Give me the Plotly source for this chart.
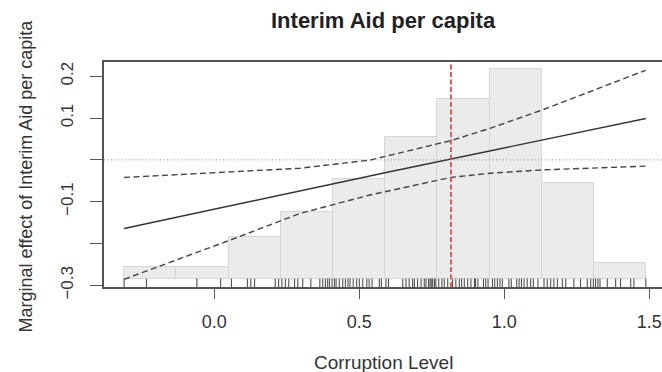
import plotly.graph_objects as go

# ---------------- data ----------------
# histogram of the moderator (Corruption Level)
bin_left = [-0.311, -0.131, 0.049, 0.229, 0.409, 0.589, 0.769, 0.949, 1.129, 1.309]
bin_width = 0.18
bin_counts = [3, 3, 10, 16, 24, 34, 43, 50, 23, 4]

# marginal effect (solid line)
me_x = [-0.311, 0.605, 1.488]
me_y = [-0.164, -0.0285, 0.099]

# upper confidence bound (dashed)
up_x = [-0.311, 0.0, 0.296, 0.537, 0.816, 0.951, 1.130, 1.475, 1.488]
up_y = [-0.042, -0.031, -0.020, -0.0005, 0.046, 0.0755, 0.119, 0.211, 0.214]

# lower confidence bound (dashed)
lo_x = [-0.311, 0.054, 0.296, 0.537, 0.816, 0.951, 1.130, 1.488]
lo_y = [-0.2856, -0.192, -0.128, -0.084, -0.042, -0.032, -0.024, -0.015]

# reference value of the moderator (red dashed line)
ref_x = 0.816

# rug of observed moderator values
rug_x = [
    -0.311, -0.234, -0.060, 0.022, 0.059, 0.114, 0.126, 0.139, 0.210, 0.222,
    0.233, 0.245, 0.257, 0.277, 0.288, 0.305, 0.333, 0.364, 0.374, 0.383,
    0.391, 0.397, 0.406, 0.414, 0.420, 0.431, 0.443, 0.452, 0.461, 0.468,
    0.479, 0.491, 0.500, 0.512, 0.526, 0.534, 0.544, 0.569, 0.576, 0.592,
    0.601, 0.650, 0.661, 0.672, 0.684, 0.690, 0.701, 0.713, 0.724, 0.730,
    0.739, 0.744, 0.748, 0.753, 0.759, 0.764, 0.774, 0.785, 0.793, 0.805,
    0.822, 0.833, 0.845, 0.853, 0.862, 0.874, 0.885, 0.897, 0.901, 0.909,
    0.928, 0.936, 0.944, 0.959, 0.967, 0.976, 0.985, 0.993, 1.016, 1.024,
    1.043, 1.051, 1.059, 1.068, 1.079, 1.091, 1.100, 1.116, 1.137, 1.148,
    1.160, 1.171, 1.183, 1.200, 1.212, 1.240, 1.263, 1.286, 1.298, 1.307,
    1.315, 1.323, 1.330, 1.355, 1.384, 1.401, 1.436, 1.447, 1.488,
]

x_ticks = [0.0, 0.5, 1.0, 1.5]
x_ticktext = ["0.0", "0.5", "1.0", "1.5"]
y_ticks = [-0.3, -0.2, -0.1, 0.0, 0.1, 0.2]
y_ticktext = ["\u22120.3", "", "\u22120.1", "", "0.1", "0.2"]

title_text = "Interim Aid per capita"
x_title = "Corruption Level"
y_title = "Marginal effect of Interim Aid per capita"

# ---------------- figure ----------------
FONT = "Liberation Sans, Arial, sans-serif"
fig = go.Figure()

# histogram + rug on the (hidden) base axis "y" so they sit underneath
bin_centers = [b + bin_width / 2 for b in bin_left]
fig.add_trace(go.Bar(
    x=bin_centers, y=bin_counts, width=[bin_width] * len(bin_counts),
    marker=dict(color="#ebebeb", line=dict(color="#d6d6d6", width=1)),
    yaxis="y", hoverinfo="skip", showlegend=False,
))
fig.add_trace(go.Scatter(
    x=rug_x, y=[-1.0] * len(rug_x), mode="markers", yaxis="y",
    marker=dict(symbol="line-ns", size=7,
                line=dict(width=1, color="rgba(15,15,15,0.8)")),
    showlegend=False, hoverinfo="skip",
))

# effect lines on the visible value axis "y2" (drawn on top)
fig.add_trace(go.Scatter(
    x=up_x, y=up_y, mode="lines", yaxis="y2",
    line=dict(color="#444444", width=1.4, dash="6px,3.5px"),
    showlegend=False,
))
fig.add_trace(go.Scatter(
    x=lo_x, y=lo_y, mode="lines", yaxis="y2",
    line=dict(color="#444444", width=1.4, dash="6px,3.5px"),
    showlegend=False,
))
fig.add_trace(go.Scatter(
    x=me_x, y=me_y, mode="lines", yaxis="y2",
    line=dict(color="#333333", width=1.4),
    showlegend=False,
))

# zero line (dotted) and reference vertical line (red dashed)
fig.add_shape(type="line", xref="paper", x0=0, x1=1, yref="y2", y0=0, y1=0,
              line=dict(color="#8a8a8a", width=1, dash="1px,2.5px"))
fig.add_shape(type="line", xref="x", x0=ref_x, x1=ref_x, yref="paper", y0=0, y1=1,
              line=dict(color="#e34a4a", width=1.8, dash="5px,2.5px"))

fig.update_layout(
    width=662, height=372,
    margin=dict(l=104, r=0, t=62, b=85),
    paper_bgcolor="white", plot_bgcolor="white",
    font=dict(family=FONT, color="#333333"),
    bargap=0,
    xaxis=dict(
        range=[-0.3803, 1.5438], tickvals=x_ticks, ticktext=x_ticktext,
        ticks="outside", ticklen=10, tickwidth=1.4, tickcolor="#555555",
        showline=True, linecolor="#555555", linewidth=1.5, mirror=True,
        showgrid=False, zeroline=False,
        tickfont=dict(size=18, color="#333333"), ticklabelstandoff=8,
    ),
    yaxis=dict(range=[-1.83, 51.74], visible=False),
    yaxis2=dict(
        overlaying="y", side="left",
        range=[-0.304, 0.234], tickvals=y_ticks, ticktext=y_ticktext,
        ticks="outside", ticklen=12, tickwidth=1.4, tickcolor="#555555",
        showline=True, linecolor="#555555", linewidth=1.5,
        showgrid=False, zeroline=False, tickangle=-90,
        tickfont=dict(size=17, color="#333333"), ticklabelstandoff=10,
    ),
    annotations=[
        dict(text="<b>" + title_text + "</b>", xref="paper", yref="paper",
             x=0.5, y=1, yshift=42, xanchor="center", yanchor="middle",
             showarrow=False, font=dict(size=22, color="#222222", family=FONT)),
        dict(text=x_title, xref="paper", yref="paper", x=0.5, y=0,
             yshift=-75, xanchor="center", yanchor="middle", showarrow=False,
             font=dict(size=19, color="#333333", family=FONT)),
        dict(text=y_title, xref="paper", yref="paper", x=0, y=0.5,
             xshift=-79, yshift=-2, xanchor="center", yanchor="middle",
             textangle=-90, showarrow=False,
             font=dict(size=18, color="#333333", family=FONT)),
    ],
)

fig.write_html("out.html")
